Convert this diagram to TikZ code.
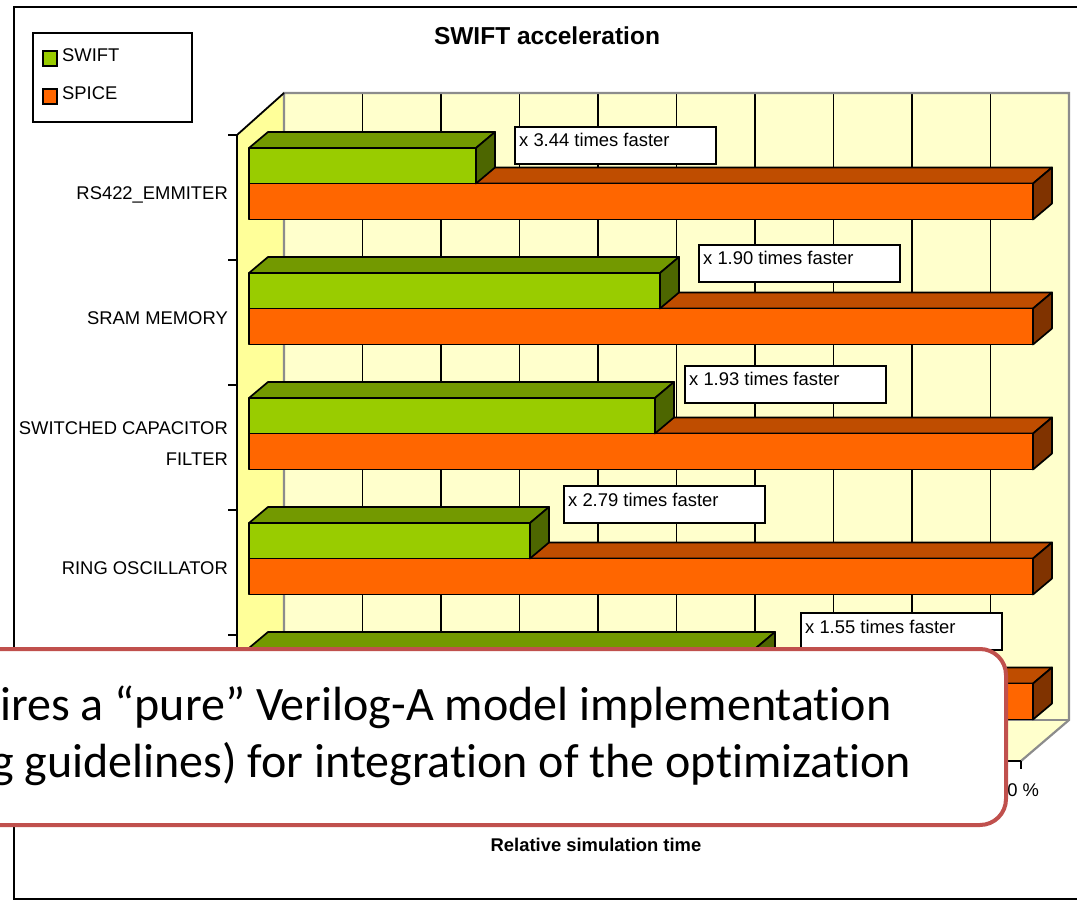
\documentclass[tikz,border=0pt]{standalone}
\usepackage{fontspec}
\setmainfont{Liberation Sans}
\newfontfamily\callfont[Ligatures=NoCommon]{Carlito}
\definecolor{gfront}{HTML}{99CC00}
\definecolor{gtop}{HTML}{739900}
\definecolor{gside}{HTML}{4D6600}
\definecolor{ofront}{HTML}{FF6600}
\definecolor{otop}{HTML}{BF4D00}
\definecolor{oside}{HTML}{803300}
\definecolor{wallback}{HTML}{FFFFCC}
\definecolor{wallleft}{HTML}{FFFF99}
\definecolor{wallgray}{HTML}{8C8C8C}
\definecolor{callred}{HTML}{C0504D}
\newcommand{\chartbar}[6]{%
  \draw[barline, fill=#5] (249,#2) -- (268,#2-16) -- (#1+19,#2-16) -- (#1,#2) -- cycle;
  \draw[barline, fill=#6] (#1,#2) -- (#1+19,#2-16) -- (#1+19,#2+#3-16) -- (#1,#2+#3) -- cycle;
  \draw[barline, fill=#4] (249,#2) rectangle (#1,#2+#3);
}
\begin{document}
\begin{tikzpicture}[x=1pt,y=-1pt,
  barline/.style={draw=black, line width=1.7pt, line join=round},
  gridline/.style={draw=black, line width=1.6pt},
  graywall/.style={draw=wallgray, line width=2.2pt},
  axisline/.style={draw=black, line width=1.8pt},
  chartfont/.style={font=\fontsize{18.4}{22}\selectfont},
  catlabel/.style={chartfont, anchor=base east, inner sep=0pt},
  lbox/.style={draw=black, line width=1.6pt, fill=white, anchor=north west, minimum width=201pt, minimum height=37pt, inner sep=0pt},
  ltext/.style={chartfont, anchor=base west, inner sep=0pt},
  swatch/.style={draw=black, line width=1.6pt},
  callout/.style={draw=callred, line width=4pt, fill=white, rounded corners=26pt, inner sep=0pt},
  calltext/.style={font=\callfont\fontsize{48}{57}\selectfont, anchor=base west, inner sep=0pt}
]
\useasboundingbox (0,0) rectangle (1077,901);
\clip (0,0) rectangle (1077,901);
\fill[white] (0,0) rectangle (1077,901);
% outer frame
\draw[line width=2.2pt] (14,7) rectangle (1110,899);
% title
\node[font=\bfseries\fontsize{24.5}{28}\selectfont] (title) at (547,36) {SWIFT acceleration};
% legend
\draw[line width=2pt] (33,33) rectangle (192,122);
\draw[swatch, fill=gfront] (43,51) rectangle (57,66);
\draw[swatch, fill=ofront] (43,89) rectangle (57,104);
\node[ltext] (legswift) at (62,61.6) {SWIFT};
\node[ltext] (legspice) at (62,99.6) {SPICE};
% walls
\fill[wallback] (284,93) rectangle (1069,720);
\fill[wallleft] (237,135) -- (284,93) -- (284,720) -- (237,761) -- cycle;
\fill[wallback] (237,761) -- (284,720) -- (1069,720) -- (1021,761) -- cycle;
\foreach \k in {1,...,9} \draw[gridline] (284+78.5*\k,93) -- (284+78.5*\k,720);
\draw[graywall] (284,720) -- (284,93) -- (1069,93) -- (1069,720) -- (1021,761);
\draw[graywall] (284,720) -- (1069,720);
\draw[axisline] (237,761) -- (237,135) -- (284,93);
\draw[axisline] (237,761) -- (1021,761);
\foreach \t in {135,260,385,510,635,760} \draw[axisline] (228,\t) -- (237,\t);
\foreach \k in {0,...,10} \draw[axisline] (237+78.4*\k,761) -- (237+78.4*\k,769);
% category labels
\node[catlabel] (c1) at (228,199.6) {RS422\_EMMITER};
\node[catlabel] (c2) at (228,324.6) {SRAM MEMORY};
\node[catlabel] (c3a) at (228,434.6) {SWITCHED CAPACITOR};
\node[catlabel] (c3b) at (228,465.6) {FILTER};
\node[catlabel] (c4) at (228,574.6) {RING OSCILLATOR};
% bars: orange (SPICE) then green (SWIFT)
\chartbar{1033}{183.5}{36}{ofront}{otop}{oside}
\chartbar{476}{148}{35.5}{gfront}{gtop}{gside}
\chartbar{1033}{308.5}{36}{ofront}{otop}{oside}
\chartbar{660}{273}{35.5}{gfront}{gtop}{gside}
\chartbar{1033}{433.5}{36}{ofront}{otop}{oside}
\chartbar{655}{398}{35.5}{gfront}{gtop}{gside}
\chartbar{1033}{558.5}{36}{ofront}{otop}{oside}
\chartbar{530}{523}{35.5}{gfront}{gtop}{gside}
\chartbar{1033}{683.5}{36}{ofront}{otop}{oside}
\chartbar{756}{648}{35.5}{gfront}{gtop}{gside}
% speed-up labels
\node[lbox] (b1) at (514,126) {};
\node[ltext] (t1) at (519,147) {x 3.44 times faster};
\node[lbox] (b2) at (698,244) {};
\node[ltext] (t2) at (703,265) {x 1.90 times faster};
\node[lbox] (b3) at (684,365) {};
\node[ltext] (t3) at (689,386) {x 1.93 times faster};
\node[lbox] (b4) at (563,485) {};
\node[ltext] (t4) at (568,506) {x 2.79 times faster};
\node[lbox] (b5) at (800,612) {};
\node[ltext] (t5) at (805,633) {x 1.55 times faster};
% axis texts
\node[chartfont, anchor=base, inner sep=0pt] (x100) at (1013,796.6) {100 \%};
\node[font=\bfseries\fontsize{18.4}{22}\selectfont, anchor=base, inner sep=0pt] (xtitle) at (596,851.6) {Relative simulation time};
% callout
\node[callout, anchor=north east, minimum width=1060pt, minimum height=176pt] (co) at (1008,647) {};
\node[calltext] (co1) at (0,720) {ires a “pure” Verilog-A model implementation};
\node[calltext] (co2) at (-9,777) {g guidelines) for integration of the optimization};
\end{tikzpicture}
\end{document}
